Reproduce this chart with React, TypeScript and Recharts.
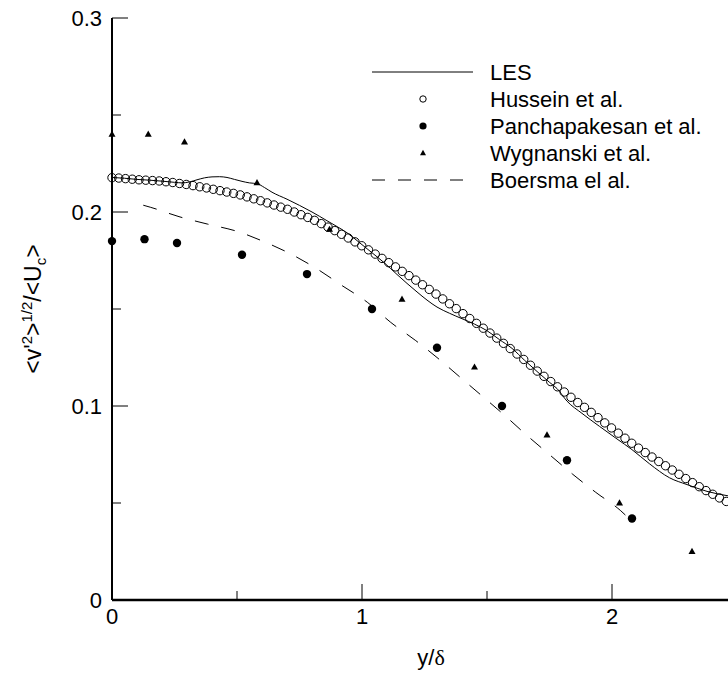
import React from 'react';
import { ComposedChart, XAxis, YAxis, Line, Scatter } from 'recharts';

const FONT = '"Liberation Sans", Arial, Helvetica, sans-serif';
const FS = 22;

// ---- axis ticks ----
const xTickValues = [0, 0.5, 1, 1.5, 2];
const xTickLabels = ['0', '', '1', '', '2'];
const yTickValues = [0, 0.05, 0.1, 0.15, 0.2, 0.25, 0.3];
const yTickLabels = ['0', '', '0.1', '', '0.2', '', '0.3'];

// ---- LES (solid line) ----
const lesX = [0.0, 0.05, 0.1, 0.15, 0.2, 0.25, 0.28, 0.31, 0.34, 0.37, 0.4, 0.43, 0.46, 0.49, 0.52, 0.55, 0.58, 0.61, 0.64, 0.7, 0.75, 0.8, 0.86, 0.9, 0.94, 0.99, 1.04, 1.09, 1.14, 1.18, 1.22, 1.26, 1.3, 1.35, 1.4, 1.45, 1.5, 1.55, 1.6, 1.65, 1.7, 1.75, 1.78, 1.82, 1.88, 1.95, 2.02, 2.08, 2.15, 2.23, 2.3, 2.38, 2.464];
const lesY = [0.2178, 0.2174, 0.2168, 0.2164, 0.2159, 0.2153, 0.215, 0.2155, 0.2166, 0.2176, 0.2181, 0.2182, 0.2178, 0.2168, 0.2158, 0.215, 0.2146, 0.2126, 0.2102, 0.2066, 0.2034, 0.2, 0.1955, 0.1925, 0.1893, 0.1842, 0.179, 0.1737, 0.1678, 0.1632, 0.1588, 0.1546, 0.151, 0.1478, 0.145, 0.1422, 0.1388, 0.1342, 0.1297, 0.1236, 0.1178, 0.1122, 0.109, 0.1025, 0.0962, 0.0895, 0.083, 0.0775, 0.0702, 0.063, 0.0595, 0.056, 0.0537];

// ---- Hussein et al. (open circles) ----
const husseinX = [
  0, 0.027, 0.054, 0.081, 0.108, 0.135, 0.162, 0.189, 0.216, 0.243,
  0.27, 0.297, 0.324, 0.351, 0.378, 0.405, 0.432, 0.459, 0.486, 0.513,
  0.54, 0.567, 0.594, 0.621, 0.648, 0.675, 0.702, 0.729, 0.756, 0.783,
  0.81, 0.837, 0.864, 0.891, 0.918, 0.945, 0.972, 0.999, 1.026, 1.053,
  1.08, 1.107, 1.134, 1.161, 1.188, 1.215, 1.242, 1.269, 1.296, 1.323,
  1.35, 1.377, 1.404, 1.431, 1.458, 1.485, 1.512, 1.539, 1.566, 1.593,
  1.62, 1.647, 1.674, 1.701, 1.728, 1.755, 1.782, 1.809, 1.836, 1.863,
  1.89, 1.917, 1.944, 1.971, 1.998, 2.025, 2.052, 2.079, 2.106, 2.133,
  2.16, 2.187, 2.214, 2.241, 2.268, 2.295, 2.322, 2.349, 2.376, 2.403,
  2.43, 2.457,
];
const husseinY = [
  0.2177, 0.2175, 0.2172, 0.2169, 0.2166, 0.2164, 0.2162, 0.216, 0.2156, 0.2152,
  0.2147, 0.2142, 0.2136, 0.213, 0.2124, 0.2117, 0.211, 0.2103, 0.2096, 0.2088,
  0.2078, 0.2068, 0.2058, 0.2047, 0.2036, 0.2025, 0.2014, 0.2, 0.1986, 0.1972,
  0.1957, 0.194, 0.1922, 0.1904, 0.1885, 0.1866, 0.1846, 0.1826, 0.1805, 0.1783,
  0.1761, 0.1739, 0.1717, 0.1694, 0.1672, 0.1649, 0.1625, 0.1601, 0.1577, 0.1552,
  0.1527, 0.1502, 0.1476, 0.1451, 0.1426, 0.1401, 0.1376, 0.135, 0.1323, 0.1296,
  0.1268, 0.124, 0.121, 0.118, 0.1153, 0.1126, 0.1099, 0.1072, 0.1045, 0.1018,
  0.0993, 0.0967, 0.094, 0.0913, 0.0887, 0.086, 0.0834, 0.0808, 0.0783, 0.076,
  0.0737, 0.0714, 0.0692, 0.067, 0.0648, 0.0626, 0.0605, 0.0584, 0.0564, 0.0545,
  0.0526, 0.0508,
];

// ---- Panchapakesan et al. (filled circles) ----
const panchX = [0, 0.13, 0.26, 0.52, 0.78, 1.04, 1.3, 1.56, 1.82, 2.08];
const panchY = [0.185, 0.186, 0.184, 0.178, 0.168, 0.15, 0.13, 0.1, 0.072, 0.042];

// ---- Wygnanski et al. (triangles) ----
const wygX = [0, 0.145, 0.29, 0.58, 0.87, 1.16, 1.45, 1.74, 2.03, 2.32];
const wygY = [0.24, 0.24, 0.236, 0.215, 0.191, 0.155, 0.12, 0.085, 0.05, 0.025];

// ---- Boersma el al. (dashed line) ----
const boersmaX = [0.125, 0.155, 0.268, 0.381, 0.501, 0.608, 0.719, 0.821, 0.921, 1.021, 1.115, 1.215, 1.3, 1.4, 1.5, 1.572, 1.661, 1.752, 1.841, 1.935, 2.035, 2.06];
const boersmaY = [0.2035, 0.2024, 0.1976, 0.1938, 0.19, 0.1847, 0.1781, 0.1706, 0.162, 0.1535, 0.1431, 0.1337, 0.125, 0.114, 0.103, 0.095, 0.0847, 0.0747, 0.065, 0.0555, 0.046, 0.043];

const legendLabels = ['LES', 'Hussein et al.', 'Panchapakesan et al.', 'Wygnanski et al.', 'Boersma el al.'];
const xTitle = 'y/';
const xTitleGreek = 'δ';

const zip = (xs: number[], ys: number[]) => xs.map((x, i) => ({ x, y: ys[i] }));
const lesData = zip(lesX, lesY);
const husseinData = zip(husseinX, husseinY);
const panchData = zip(panchX, panchY);
const wygData = zip(wygX, wygY);
const boersmaData = zip(boersmaX, boersmaY);

const XTick = (props: any) => {
  const { x, y, payload } = props;
  const i = xTickValues.findIndex((v) => Math.abs(v - payload.value) < 1e-9);
  const label = i >= 0 ? xTickLabels[i] : '';
  const len = label ? 16 : 9;
  return (
    <g>
      <line x1={x} y1={y} x2={x} y2={y - len} stroke="#000" strokeWidth={1} />
      {label ? (
        <text x={x} y={y + 24} textAnchor="middle" fontSize={FS} fontFamily={FONT} fill="#000">
          {label}
        </text>
      ) : null}
    </g>
  );
};

const YTick = (props: any) => {
  const { x, y, payload } = props;
  const i = yTickValues.findIndex((v) => Math.abs(v - payload.value) < 1e-9);
  const label = i >= 0 ? yTickLabels[i] : '';
  const len = label ? 16 : 9;
  return (
    <g>
      <line x1={x} y1={y} x2={x + len} y2={y} stroke="#000" strokeWidth={1} />
      {label ? (
        <text x={x - 10} y={y + 8} textAnchor="end" fontSize={FS} fontFamily={FONT} fill="#000">
          {label}
        </text>
      ) : null}
    </g>
  );
};

const OpenCircle = (p: any) => (
  <circle cx={p.cx} cy={p.cy} r={4.2} fill="none" stroke="#000" strokeWidth={1} />
);
const FilledCircle = (p: any) => <circle cx={p.cx} cy={p.cy} r={4.2} fill="#000" />;
const Triangle = (p: any) => (
  <path
    d={`M${p.cx},${p.cy - 3.8} L${p.cx + 3.5},${p.cy + 2.4} L${p.cx - 3.5},${p.cy + 2.4} Z`}
    fill="#000"
  />
);

const Overlay = () => {
  const rowY = (i: number) => 72 + i * 27;
  const lx1 = 372;
  const lx2 = 473;
  const mx = 423;
  const tx = 490;
  return (
    <svg
      width={728}
      height={675}
      style={{ position: 'absolute', left: 0, top: 0, pointerEvents: 'none' }}
    >
      {/* legend */}
      <line x1={lx1} y1={rowY(0)} x2={lx2} y2={rowY(0)} stroke="#000" strokeWidth={1} />
      <circle cx={mx} cy={rowY(1)} r={3.2} fill="none" stroke="#000" strokeWidth={1} />
      <circle cx={mx} cy={rowY(2)} r={3.6} fill="#000" />
      <path
        d={`M${mx},${rowY(3) - 3.2} L${mx + 3},${rowY(3) + 2.2} L${mx - 3},${rowY(3) + 2.2} Z`}
        fill="#000"
      />
      <line
        x1={lx1}
        y1={rowY(4)}
        x2={lx2}
        y2={rowY(4)}
        stroke="#000"
        strokeWidth={1}
        strokeDasharray="13 13"
      />
      {legendLabels.map((t, i) => (
        <text key={t} x={tx} y={rowY(i) + 8} fontSize={FS} fontFamily={FONT} fill="#000">
          {t}
        </text>
      ))}
      {/* x title */}
      <text x={431} y={665} textAnchor="middle" fontSize={FS} fontFamily={FONT} fill="#000">
        {xTitle}
        <tspan fontFamily='"Liberation Serif", "DejaVu Serif", serif'>{xTitleGreek}</tspan>
      </text>
      {/* y title */}
      <text
        x={41}
        y={309}
        transform="rotate(-90, 41, 309)"
        textAnchor="middle"
        fontSize={23}
        fontFamily={FONT}
        fill="#000"
      >
        {'<v\''}
        <tspan fontSize={15} dy={-9}>2</tspan>
        <tspan dy={9}>{'>'}</tspan>
        <tspan fontSize={15} dy={-9}>1/2</tspan>
        <tspan dy={9}>{'/<U'}</tspan>
        <tspan fontSize={15} dy={5}>c</tspan>
        <tspan dy={-5}>{'>'}</tspan>
      </text>
    </svg>
  );
};

export default function App() {
  return (
    <div
      style={{
        position: 'absolute',
        left: 0,
        top: 0,
        width: 728,
        height: 675,
        background: '#fff',
        fontFamily: FONT,
        overflow: 'hidden',
      }}
    >
      <ComposedChart width={728} height={675} margin={{ top: 18, right: 0, bottom: 0, left: 0 }}>
        <XAxis
          type="number"
          dataKey="x"
          domain={[0, 2.464]}
          ticks={xTickValues}
          height={75}
          tickSize={0}
          tickMargin={0}
          tickLine={false}
          axisLine={{ stroke: '#000', strokeWidth: 2.5 }}
          tick={XTick}
          interval={0}
        />
        <YAxis
          type="number"
          dataKey="y"
          domain={[0, 0.3]}
          ticks={yTickValues}
          width={112}
          tickSize={0}
          tickMargin={0}
          tickLine={false}
          axisLine={{ stroke: '#000', strokeWidth: 2 }}
          tick={YTick}
          interval={0}
        />
        <Line
          data={boersmaData}
          dataKey="y"
          type="monotone"
          stroke="#000"
          strokeWidth={1}
          strokeDasharray="14 13"
          dot={false}
          activeDot={false}
          isAnimationActive={false}
        />
        <Line
          data={lesData}
          dataKey="y"
          type="monotone"
          stroke="#000"
          strokeWidth={1}
          dot={false}
          activeDot={false}
          isAnimationActive={false}
        />
        <Scatter data={husseinData} dataKey="y" shape={OpenCircle} isAnimationActive={false} />
        <Scatter data={panchData} dataKey="y" shape={FilledCircle} isAnimationActive={false} />
        <Scatter data={wygData} dataKey="y" shape={Triangle} isAnimationActive={false} />
      </ComposedChart>
      <Overlay />
    </div>
  );
}
